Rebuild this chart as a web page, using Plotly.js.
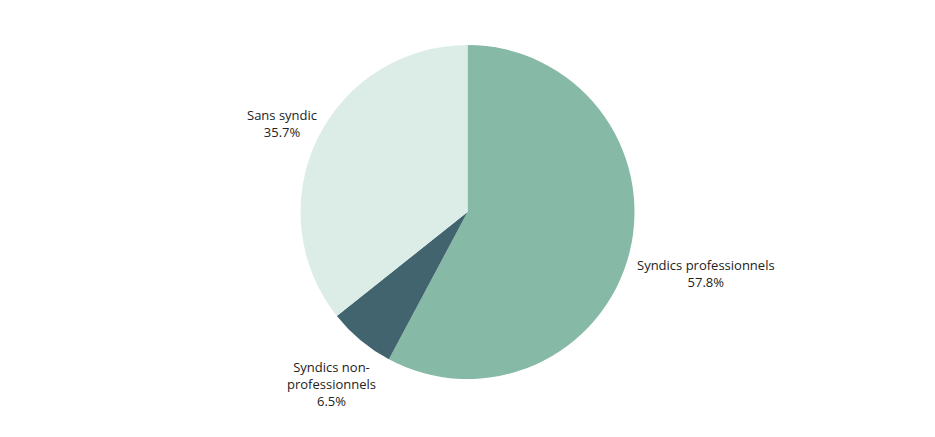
<!DOCTYPE html>
<html>
<head>
<meta charset="utf-8">
<script src="https://cdn.plot.ly/plotly-3.0.1.min.js"></script>
<style>html,body{margin:0;padding:0;background:#fff;}#chart{width:935px;height:437px;}</style>
</head>
<body>
<div id="chart"></div>
<script>
const categories = ["Syndics professionnels", "Syndics non-professionnels", "Sans syndic"];
const displayLabels = ["Syndics professionnels", "Syndics non-<br>professionnels", "Sans syndic"];
const shares = [57.8, 6.5, 35.7];
const colors = ["#86baa6", "#41646f", "#dcede8"];

const total = shares.reduce((a, b) => a + b, 0);
const midAngles = [];
let cum = 0;
shares.forEach(v => { midAngles.push(2 * Math.PI * (cum + v / 2) / total); cum += v; });

const labelFont = {family: "Open Sans", size: 13, color: "#222"};
const annotations = shares.map((v, i) => ({
  xref: "paper", yref: "paper", x: 0.5, y: 0.5,
  xanchor: "center", yanchor: "middle",
  text: displayLabels[i] + "<br>" + (v / total * 100).toFixed(1) + "%",
  showarrow: false, align: "center", font: labelFont, opacity: 0
}));

const gd = document.getElementById("chart");
Plotly.newPlot(gd, [{
  type: "pie",
  labels: categories,
  values: shares,
  textinfo: "none",
  sort: false,
  direction: "clockwise",
  rotation: 0,
  marker: {colors: colors, line: {width: 0}},
  hoverinfo: "label+percent"
}], {
  width: 935,
  height: 437,
  margin: {l: 0, r: 0, t: 45, b: 58},
  showlegend: false,
  paper_bgcolor: "#fff",
  font: labelFont,
  annotations: annotations
}, {displayModeBar: false, staticPlot: true}).then(() => {
  const sz = gd._fullLayout._size;
  const R = Math.min(sz.w, sz.h) / 2;
  const gap = 2;
  const nudgeX = 4, nudgeY = -3;
  const groups = gd.querySelectorAll(".annotation");
  const upd = {};
  groups.forEach((g, i) => {
    const bb = g.getBoundingClientRect();
    const hw = bb.width / 2, hh = bb.height / 2;
    const ux = Math.sin(midAngles[i]), uy = Math.cos(midAngles[i]);
    const t = R + gap + hw * Math.abs(ux) + hh * Math.abs(uy);
    upd["annotations[" + i + "].xshift"] = t * ux + nudgeX;
    upd["annotations[" + i + "].yshift"] = t * uy + nudgeY;
    upd["annotations[" + i + "].opacity"] = 1;
  });
  return Plotly.relayout(gd, upd);
});
</script>
</body>
</html>
